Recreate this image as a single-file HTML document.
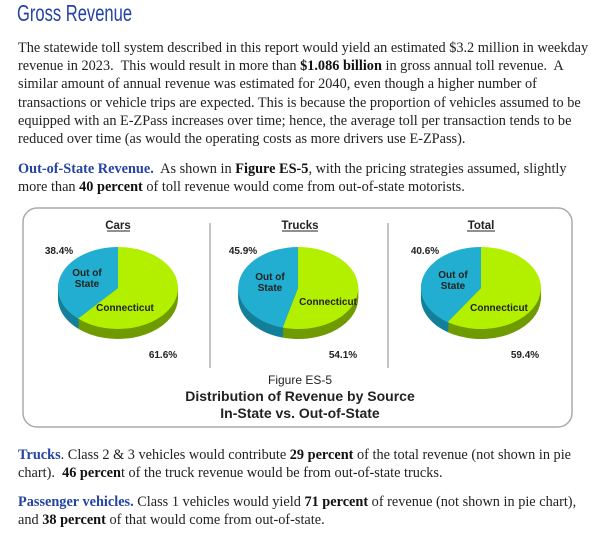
<!DOCTYPE html>
<html><head><meta charset="utf-8"><style>
body{margin:0;width:602px;height:536px;background:#fff;position:relative;font-family:"Liberation Serif",serif;color:#222;overflow:hidden}
h1{position:absolute;left:17px;top:0px;margin:0;font:23px "Liberation Sans",sans-serif;color:#2443a4;transform:scaleX(0.72);transform-origin:left top;white-space:nowrap}
p{position:absolute;left:18px;margin:0;font-size:14.3px;line-height:18.2px;white-space:nowrap}
b{color:#111}
.bl{color:#2443a4;font-weight:bold}
svg{position:absolute;left:0;top:0}
svg text{font-family:"Liberation Sans",sans-serif;font-weight:bold;fill:#222}
</style></head><body>
<h1>Gross Revenue</h1>
<p style="top:39px">The statewide toll system described in this report would yield an estimated $3.2 million in weekday<br>revenue in 2023.&nbsp; This would result in more than <b>$1.086 billion</b> in gross annual toll revenue.&nbsp; A<br>similar amount of annual revenue was estimated for 2040, even though a higher number of<br>transactions or vehicle trips are expected. This is because the proportion of vehicles assumed to be<br>equipped with an E-ZPass increases over time; hence, the average toll per transaction tends to be<br>reduced over time (as would the operating costs as more drivers use E-ZPass).</p>
<p style="top:160px"><span class="bl">Out-of-State Revenue.</span>&nbsp; As shown in <b>Figure ES-5</b>, with the pricing strategies assumed, slightly<br>more than <b>40 percent</b> of toll revenue would come from out-of-state motorists.</p>
<p style="top:446px"><span class="bl">Trucks</span>. Class 2 &amp; 3 vehicles would contribute <b>29 percent</b> of the total revenue (not shown in pie<br>chart).&nbsp; <b>46 percen</b>t of the truck revenue would be from out-of-state trucks.</p>
<p style="top:493px"><span class="bl">Passenger vehicles.</span> Class 1 vehicles would yield <b>71 percent</b> of revenue (not shown in pie chart),<br>and <b>38 percent</b> of that would come from out-of-state.</p>
<svg width="602" height="536">
<defs>
<g id="cd"><path d="M118 288L118 247A60 41 0 1 1 78 318.6Z" fill="#6f9a00"/><path d="M118 288L78 318.6A60 41 0 0 1 118 247Z" fill="#137f99"/></g>
<g id="td"><path d="M298 288L298 247A60 41 0 1 1 282.7 327.6Z" fill="#6f9a00"/><path d="M298 288L282.7 327.6A60 41 0 0 1 298 247Z" fill="#137f99"/></g>
<g id="xd"><path d="M481 288L481 247A60 41 0 1 1 447.6 322.1Z" fill="#6f9a00"/><path d="M481 288L447.6 322.1A60 41 0 0 1 481 247Z" fill="#137f99"/></g>
</defs>
<rect x="23" y="208" width="549" height="219" rx="14" fill="#fff" stroke="#aaa" stroke-width="1.5"/>
<line x1="210" y1="223" x2="210" y2="368" stroke="#888"/>
<line x1="388" y1="223" x2="388" y2="368" stroke="#888"/>
<g font-size="11.5" text-anchor="middle">
<text x="118" y="229">Cars</text><text x="300" y="229">Trucks</text><text x="481" y="229">Total</text></g>
<line x1="107" y1="231" x2="130" y2="231" stroke="#222"/><line x1="282" y1="231" x2="318" y2="231" stroke="#222"/><line x1="467" y1="231" x2="495" y2="231" stroke="#222"/>
<g>
<use href="#cd" y="10"/><use href="#cd" y="8"/><use href="#cd" y="6"/><use href="#cd" y="4"/><use href="#cd" y="2"/>
<path d="M118 288L118 247A60 41 0 1 1 78 318.6Z" fill="#b2f000"/><path d="M118 288L78 318.6A60 41 0 0 1 118 247Z" fill="#22aed0"/>
<use href="#td" y="10"/><use href="#td" y="8"/><use href="#td" y="6"/><use href="#td" y="4"/><use href="#td" y="2"/>
<path d="M298 288L298 247A60 41 0 1 1 282.7 327.6Z" fill="#b2f000"/><path d="M298 288L282.7 327.6A60 41 0 0 1 298 247Z" fill="#22aed0"/>
<use href="#xd" y="10"/><use href="#xd" y="8"/><use href="#xd" y="6"/><use href="#xd" y="4"/><use href="#xd" y="2"/>
<path d="M481 288L481 247A60 41 0 1 1 447.6 322.1Z" fill="#b2f000"/><path d="M481 288L447.6 322.1A60 41 0 0 1 481 247Z" fill="#22aed0"/>
</g>
<g font-size="10" text-anchor="middle">
<text x="87" y="276">Out of</text><text x="87" y="287">State</text><text x="125" y="311">Connecticut</text>
<text x="270" y="280">Out of</text><text x="270" y="291">State</text><text x="328" y="305">Connecticut</text>
<text x="453" y="278">Out of</text><text x="453" y="289">State</text><text x="499" y="311">Connecticut</text>
<text x="59" y="254">38.4%</text><text x="163" y="358">61.6%</text>
<text x="243" y="254">45.9%</text><text x="343" y="358">54.1%</text>
<text x="425" y="254">40.6%</text><text x="525" y="358">59.4%</text>
</g>
<text x="300" y="384" font-size="12" text-anchor="middle" style="font-weight:normal">Figure ES-5</text>
<text x="300" y="401" font-size="14" text-anchor="middle">Distribution of Revenue by Source</text>
<text x="300" y="418" font-size="14" text-anchor="middle">In-State vs. Out-of-State</text>
</svg>
</body></html>
